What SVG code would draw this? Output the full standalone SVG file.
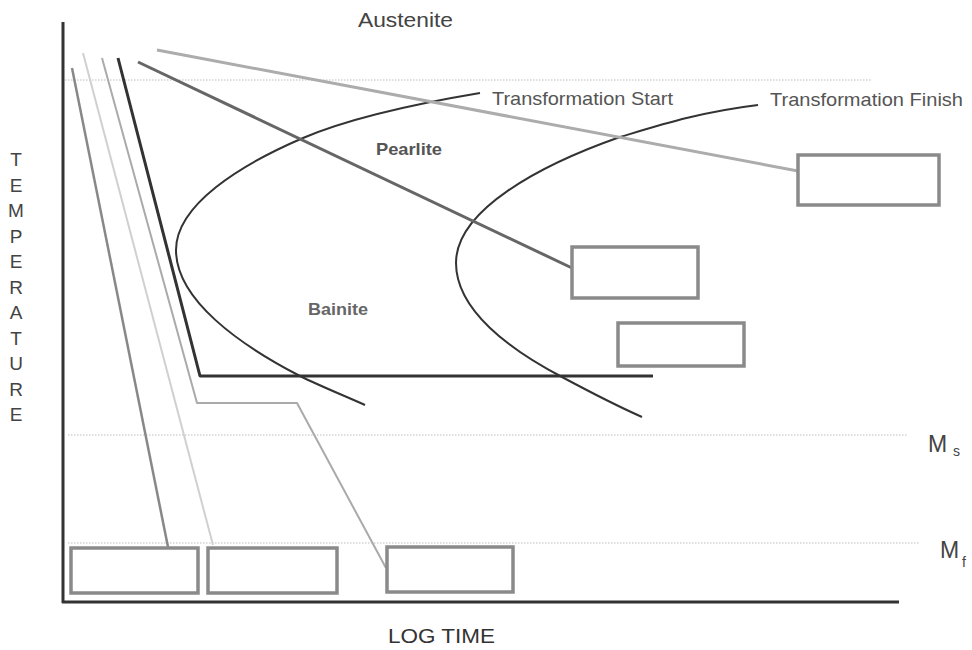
<svg xmlns="http://www.w3.org/2000/svg" width="972" height="650" viewBox="0 0 972 650">
<style>
text{font-family:"Liberation Sans",Arial,sans-serif}
.box{fill:#fff;stroke:#8a8a8a;stroke-width:3.5}
.dot{stroke:#bdbdbd;stroke-width:1;stroke-dasharray:1.5,1.5;fill:none}
.axis{stroke:#333;stroke-width:3;fill:none}
.ttt{stroke:#333;stroke-width:2;fill:none}
.lbl{fill:#555}
</style>
<rect width="972" height="650" fill="#fff"/>
<g id="guides">
<line class="dot" x1="65" y1="80" x2="872" y2="80"/>
<line class="dot" x1="68" y1="435" x2="908" y2="435"/>
<line class="dot" x1="68" y1="543" x2="920" y2="543"/>
</g>
<g id="axes">
<line class="axis" x1="63" y1="22" x2="63" y2="603"/>
<line class="axis" x1="62" y1="602" x2="899" y2="602"/>
</g>
<g id="ttt-curves">
<path class="ttt" d="M480,93 C420,103 350,118 303,138 C240,165 176,205 176,250 C176,300 240,345 300,376 C320,386 345,396 365,405"/>
<path class="ttt" d="M758,105 C700,112 660,125 620,137 C540,165 456,210 456,263 C456,310 510,350 562,377 C590,392 615,405 642,417"/>
</g>
<g id="connectors" fill="none" stroke-linejoin="round">
<line x1="157" y1="50" x2="798" y2="171" stroke="#acacac" stroke-width="3"/>
<line x1="138" y1="62" x2="572" y2="268" stroke="#666" stroke-width="3"/>
<polyline points="118,58 200,376 653,376" stroke="#333" stroke-width="3"/>
<polyline points="102,58 197,403 297,403 386,568" stroke="#aaa" stroke-width="2"/>
<line x1="83" y1="53" x2="213" y2="545" stroke="#d0d0d0" stroke-width="2"/>
<line x1="72" y1="68" x2="168" y2="547" stroke="#888" stroke-width="2.5"/>
</g>
<g id="box-1"><rect class="box" x="798" y="155" width="141" height="50"/></g>
<g id="box-2"><rect class="box" x="572" y="247" width="126" height="51"/></g>
<g id="box-3"><rect class="box" x="618" y="323" width="126" height="43"/></g>
<g id="box-4"><rect class="box" x="71" y="548" width="127" height="45"/></g>
<g id="box-5"><rect class="box" x="208" y="548" width="129" height="45"/></g>
<g id="box-6"><rect class="box" x="387" y="547" width="126" height="45"/></g>
<g id="labels">
<text x="358" y="27" font-size="21" fill="#444" textLength="95" lengthAdjust="spacingAndGlyphs">Austenite</text>
<text class="lbl" x="492" y="105" font-size="19" textLength="181" lengthAdjust="spacingAndGlyphs">Transformation Start</text>
<text class="lbl" x="770" y="106" font-size="19" textLength="193" lengthAdjust="spacingAndGlyphs">Transformation Finish</text>
<text class="lbl" x="376" y="155" font-size="17" font-weight="bold" textLength="66" lengthAdjust="spacingAndGlyphs">Pearlite</text>
<text x="308" y="315" font-size="17" font-weight="bold" fill="#666" textLength="60" lengthAdjust="spacingAndGlyphs">Bainite</text>
<text x="16" font-size="19" fill="#444" text-anchor="middle">
<tspan x="16" y="166">T</tspan><tspan x="16" y="191.5">E</tspan><tspan x="16" y="217">M</tspan><tspan x="16" y="242.5">P</tspan><tspan x="16" y="268">E</tspan><tspan x="16" y="293.5">R</tspan><tspan x="16" y="319">A</tspan><tspan x="16" y="344.5">T</tspan><tspan x="16" y="370">U</tspan><tspan x="16" y="395.5">R</tspan><tspan x="16" y="421">E</tspan>
</text>
<text x="388" y="643" font-size="20" fill="#333" textLength="107" lengthAdjust="spacingAndGlyphs">LOG TIME</text>
<text x="928" y="452" font-size="23" fill="#444">M<tspan x="953" y="456" font-size="14">s</tspan></text>
<text x="940" y="558" font-size="23" fill="#444">M<tspan x="962" y="567" font-size="14">f</tspan></text>
</g>
</svg>
